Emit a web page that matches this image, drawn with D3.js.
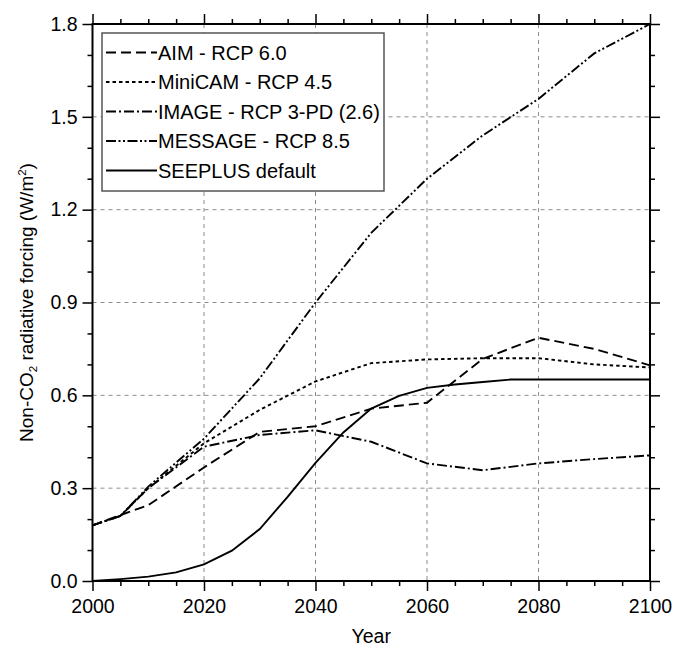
<!DOCTYPE html>
<html>
<head>
<meta charset="utf-8">
<script src="https://cdn.jsdelivr.net/npm/d3@7"></script>
<style>
html,body{margin:0;padding:0;background:#fff;}
svg{display:block;}
text{font-family:"Liberation Sans",Arial,Helvetica,sans-serif;fill:#000;}
</style>
</head>
<body>
<svg id="chart" width="673" height="648"></svg>
<script>
// ---- data ----
const rcpYears = [2000, 2005, 2010, 2020, 2030, 2040, 2050, 2060, 2070, 2080, 2090, 2100];
const aim      = [0.18, 0.213, 0.245, 0.367, 0.482, 0.50, 0.557, 0.576, 0.718, 0.786, 0.75, 0.697];
const minicam  = [0.18, 0.21, 0.30, 0.445, 0.553, 0.645, 0.704, 0.716, 0.72, 0.72, 0.70, 0.69];
const image    = [0.18, 0.21, 0.30, 0.434, 0.472, 0.487, 0.45, 0.38, 0.358, 0.38, 0.394, 0.406];
const message  = [0.18, 0.21, 0.305, 0.46, 0.655, 0.90, 1.125, 1.30, 1.44, 1.558, 1.705, 1.80];
const seeYears = [2000,2005,2010,2015,2020,2025,2030,2035,2040,2045,2050,2055,2060,2065,2070,2075,2080,2085,2090,2095,2100];
const seeplus  = [0, 0.006, 0.014, 0.028, 0.054, 0.098, 0.168, 0.272, 0.382, 0.48, 0.557, 0.598, 0.624, 0.635, 0.643, 0.651, 0.651, 0.651, 0.651, 0.651, 0.651];
const seriesNames = ["AIM - RCP 6.0", "MiniCAM - RCP 4.5", "IMAGE - RCP 3-PD (2.6)", "MESSAGE - RCP 8.5", "SEEPLUS default"];
const xTicks = [2000, 2020, 2040, 2060, 2080, 2100];
const yTicks = [0.0, 0.3, 0.6, 0.9, 1.2, 1.5, 1.8];
const xTitle = "Year";

// ---- layout ----
const L = 92.5, R = 650, T = 24, B = 581;
const svg = d3.select("#chart");
const x = d3.scaleLinear().domain([2000, 2100]).range([L, R]);
const y = d3.scaleLinear().domain([0, 1.8]).range([B, T]);

const series = [
  {name: seriesNames[0], xs: rcpYears, ys: aim, dash: "10,5"},
  {name: seriesNames[1], xs: rcpYears, ys: minicam, dash: "3.5,3"},
  {name: seriesNames[2], xs: rcpYears, ys: image, dash: "10,3,2,3"},
  {name: seriesNames[3], xs: rcpYears, ys: message, dash: "10,2.5,2,2.5,2,2.5"},
  {name: seriesNames[4], xs: seeYears, ys: seeplus, dash: null}
];

// grid
const grid = svg.append("g").attr("stroke", "#8c8c8c").attr("stroke-width", 1).attr("stroke-dasharray", "4,4");
xTicks.slice(1, -1).forEach(t => grid.append("line").attr("x1", x(t)).attr("x2", x(t)).attr("y1", T).attr("y2", B));
yTicks.slice(1, -1).forEach(t => grid.append("line").attr("x1", L).attr("x2", R).attr("y1", y(t)).attr("y2", y(t)));

// lines
const line = d3.line().x(d => x(d[0])).y(d => y(d[1]));
series.forEach(s => {
  svg.append("path")
    .datum(s.xs.map((v, i) => [v, s.ys[i]]))
    .attr("d", line)
    .attr("fill", "none")
    .attr("stroke", "#000")
    .attr("stroke-width", 1.9)
    .attr("stroke-dasharray", s.dash);
});

// legend
const lg = svg.append("g");
lg.append("rect").attr("x", 102).attr("y", 33).attr("width", 282).attr("height", 158)
  .attr("fill", "#fff").attr("stroke", "#555").attr("stroke-width", 1.5);
series.forEach((s, i) => {
  const by = 59.5 + i * 29.5;
  lg.append("line").attr("x1", 106).attr("x2", 157).attr("y1", by - 7).attr("y2", by - 7)
    .attr("stroke", "#000").attr("stroke-width", 1.9).attr("stroke-dasharray", s.dash);
  lg.append("text").attr("x", 158).attr("y", by).attr("font-size", "20px").text(s.name);
});

// axes (ticks outward on all sides)
const fmtY = d3.format(".1f");
const axB = d3.axisBottom(x).tickValues(xTicks).tickSize(10).tickSizeOuter(0).tickPadding(8).tickFormat(d3.format("d"));
const axT = d3.axisTop(x).tickValues(xTicks).tickSize(10).tickSizeOuter(0).tickFormat("");
const axL = d3.axisLeft(y).tickValues(yTicks).tickSize(10).tickSizeOuter(0).tickPadding(5).tickFormat(fmtY);
const axR = d3.axisRight(y).tickValues(yTicks).tickSize(10).tickSizeOuter(0).tickFormat("");
const minorX = d3.range(2005, 2100, 5).filter(v => v % 20 !== 0);
const minorY = d3.range(1, 18).map(v => v / 10).filter((v, i) => (i + 1) % 3 !== 0);
const mB = d3.axisBottom(x).tickValues(minorX).tickSize(5).tickSizeOuter(0).tickFormat("");
const mT = d3.axisTop(x).tickValues(minorX).tickSize(5).tickSizeOuter(0).tickFormat("");
const mL = d3.axisLeft(y).tickValues(minorY).tickSize(5).tickSizeOuter(0).tickFormat("");
const mR = d3.axisRight(y).tickValues(minorY).tickSize(5).tickSizeOuter(0).tickFormat("");

function styleAxis(g) {
  g.select(".domain").remove();
  g.selectAll(".tick line").attr("stroke", "#000").attr("stroke-width", 1.5);
  g.selectAll("text").attr("font-size", "19.5px").attr("fill", "#000")
    .style("font-family", '"Liberation Sans",Arial,Helvetica,sans-serif');
}
svg.append("g").attr("transform", `translate(0,${B})`).call(axB).call(styleAxis);
svg.append("g").attr("transform", `translate(0,${T})`).call(axT).call(styleAxis);
svg.append("g").attr("transform", `translate(${L},0)`).call(axL).call(styleAxis);
svg.append("g").attr("transform", `translate(${R},0)`).call(axR).call(styleAxis);
svg.append("g").attr("transform", `translate(0,${B})`).call(mB).call(styleAxis);
svg.append("g").attr("transform", `translate(0,${T})`).call(mT).call(styleAxis);
svg.append("g").attr("transform", `translate(${L},0)`).call(mL).call(styleAxis);
svg.append("g").attr("transform", `translate(${R},0)`).call(mR).call(styleAxis);

// frame
svg.append("rect").attr("x", L).attr("y", T).attr("width", R - L).attr("height", B - T)
  .attr("fill", "none").attr("stroke", "#000").attr("stroke-width", 2);

// titles
svg.append("text").attr("x", (L + R) / 2).attr("y", 643).attr("text-anchor", "middle")
  .attr("font-size", "19.5px").text(xTitle);
const yt = svg.append("text").attr("transform", `translate(33,${(T + B) / 2}) rotate(-90)`)
  .attr("text-anchor", "middle").attr("font-size", "19px");
yt.append("tspan").text("Non-CO");
yt.append("tspan").attr("font-size", "11.5px").attr("dy", 4).text("2");
yt.append("tspan").attr("dy", -4).text(" radiative forcing (W/m");
yt.append("tspan").attr("font-size", "11.5px").attr("dy", -7).text("2");
yt.append("tspan").attr("dy", 7).text(")");
</script>
</body>
</html>
